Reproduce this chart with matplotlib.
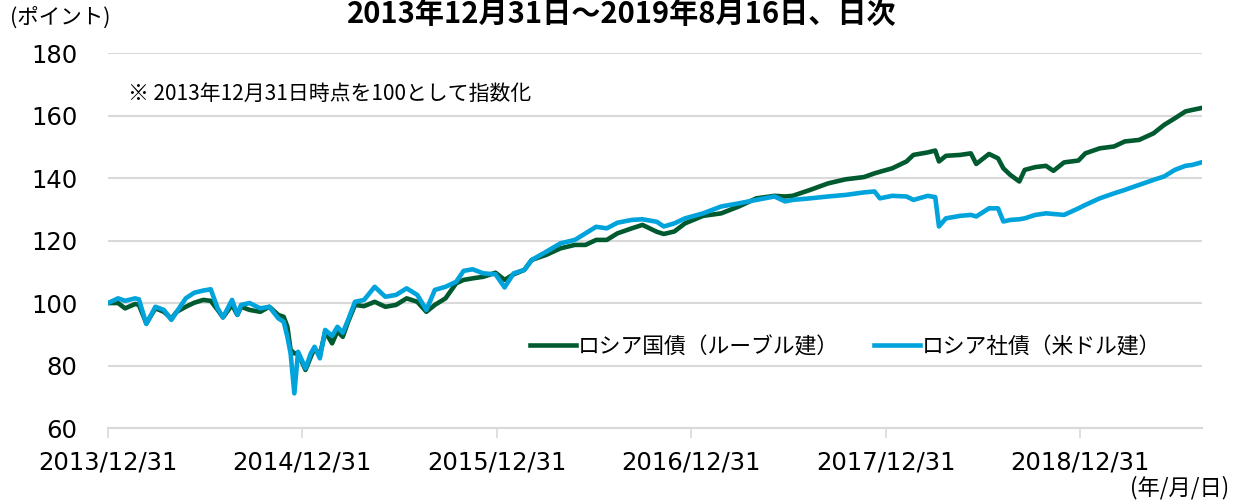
import pandas as pd
import matplotlib
matplotlib.use("Agg")
import matplotlib.pyplot as plt

plt.rcParams['font.family'] = ['Noto Sans CJK JP', 'DejaVu Sans']

# (index, 2013/12/31 = 100)
dates = [
    "2013-12-31", "2014-01-19", "2014-02-01", "2014-02-20", "2014-02-27", "2014-03-13",
    "2014-03-30", "2014-04-15", "2014-04-29", "2014-05-09", "2014-05-26", "2014-06-11",
    "2014-06-28", "2014-07-12", "2014-07-25", "2014-08-04", "2014-08-21", "2014-08-31",
    "2014-09-07", "2014-09-23", "2014-10-13", "2014-10-30", "2014-11-16", "2014-11-26",
    "2014-12-03", "2014-12-09", "2014-12-16", "2014-12-23", "2015-01-06", "2015-01-16",
    "2015-01-23", "2015-02-02", "2015-02-12", "2015-02-25", "2015-03-07", "2015-03-17",
    "2015-03-27", "2015-04-09", "2015-04-26", "2015-05-16", "2015-06-05", "2015-06-25",
    "2015-07-15", "2015-08-04", "2015-08-21", "2015-09-06", "2015-09-26", "2015-10-16",
    "2015-10-30", "2015-11-16", "2015-12-06", "2015-12-29", "2016-01-15", "2016-02-01",
    "2016-02-21", "2016-03-06", "2016-04-02", "2016-04-29", "2016-05-26", "2016-06-15",
    "2016-07-05", "2016-07-25", "2016-08-14", "2016-09-10", "2016-09-30", "2016-10-27",
    "2016-11-09", "2016-11-29", "2016-12-19", "2017-01-22", "2017-02-25", "2017-03-30",
    "2017-05-02", "2017-06-05", "2017-06-25", "2017-07-09", "2017-08-11", "2017-09-14",
    "2017-10-17", "2017-11-20", "2017-12-10", "2017-12-20", "2018-01-12", "2018-02-08",
    "2018-02-21", "2018-03-20", "2018-04-03", "2018-04-10", "2018-04-23", "2018-05-20",
    "2018-06-09", "2018-06-19", "2018-07-13", "2018-07-30", "2018-08-09", "2018-08-22",
    "2018-09-08", "2018-09-18", "2018-10-08", "2018-10-28", "2018-11-11", "2018-12-01",
    "2018-12-28", "2019-01-10", "2019-02-06", "2019-03-05", "2019-03-25", "2019-04-21",
    "2019-05-18", "2019-06-07", "2019-06-27", "2019-07-17", "2019-07-30", "2019-08-16",
]
gov_rub = [
    100.0, 100.0, 98.3, 99.7, 99.4, 93.5,
    98.3, 97.2, 95.0, 97.2, 98.8, 100.1,
    101.0, 100.7, 97.8, 95.4, 99.4, 96.2,
    98.8, 97.8, 97.2, 98.8, 96.2, 95.6,
    92.4, 85.0, 83.9, 83.9, 78.6, 82.8,
    85.5, 83.4, 90.8, 87.1, 91.0, 89.2,
    94.0, 99.4, 99.0, 100.4, 98.8, 99.4,
    101.5, 100.4, 97.2, 99.4, 101.5, 106.3,
    107.4, 107.9, 108.4, 109.7, 107.4, 109.2,
    110.6, 113.8, 115.4, 117.5, 118.6, 118.6,
    120.2, 120.2, 122.3, 123.9, 125.0, 122.8,
    122.1, 122.9, 125.5, 127.9, 128.7, 130.9,
    133.5, 134.3, 134.1, 134.3, 136.2, 138.3,
    139.6, 140.3, 141.5, 142.0, 143.1, 145.3,
    147.4, 148.2, 148.8, 145.3, 147.1, 147.4,
    147.9, 144.5, 147.7, 146.3, 143.1, 141.0,
    138.9, 142.6, 143.5, 143.9, 142.3, 145.0,
    145.6, 147.9, 149.5, 150.1, 151.7, 152.2,
    154.3, 157.0, 159.1, 161.3, 161.8, 162.4,
]
corp_usd = [
    100.0, 101.5, 100.7, 101.5, 101.2, 93.3,
    98.8, 97.8, 94.6, 97.2, 101.5, 103.3,
    104.0, 104.4, 98.3, 95.4, 101.0, 96.2,
    99.4, 100.0, 98.3, 98.8, 95.1, 94.0,
    89.2, 83.9, 71.1, 84.4, 79.1, 83.9,
    86.0, 82.3, 91.4, 89.5, 92.4, 90.5,
    94.6, 100.4, 101.0, 105.2, 102.0, 102.6,
    104.7, 102.6, 97.8, 104.2, 105.2, 106.8,
    110.3, 110.8, 109.5, 109.2, 105.0, 109.5,
    110.6, 113.8, 116.4, 119.1, 120.2, 122.3,
    124.4, 123.9, 125.7, 126.6, 126.8, 126.0,
    124.5, 125.5, 127.1, 128.7, 130.9, 131.9,
    133.0, 134.1, 132.5, 133.0, 133.5, 134.1,
    134.6, 135.4, 135.7, 133.5, 134.3, 134.1,
    133.0, 134.3, 133.9, 124.5, 127.1, 127.9,
    128.2, 127.7, 130.3, 130.3, 126.1, 126.6,
    126.8, 127.1, 128.2, 128.7, 128.5, 128.2,
    130.3, 131.4, 133.5, 135.1, 136.2, 137.8,
    139.4, 140.5, 142.6, 143.9, 144.2, 145.0,
]
labels = ["ロシア国債（ルーブル建）", "ロシア社債（米ドル建）"]
tick_dates = ["2013-12-31", "2014-12-31", "2015-12-31", "2016-12-31", "2017-12-31", "2018-12-31"]
tick_labels = ["2013/12/31", "2014/12/31", "2015/12/31", "2016/12/31", "2017/12/31", "2018/12/31"]

x = pd.to_datetime(dates)

fig = plt.figure(figsize=(12.33, 5.03), dpi=100)
ax = fig.add_axes([0.0876, 0.149, 0.8872, 0.7456])

ax.plot(x, gov_rub, color='#005A30', lw=3.3, label=labels[0], solid_joinstyle='round')
ax.plot(x, corp_usd, color='#00A3DB', lw=3.3, label=labels[1], solid_joinstyle='round')

ax.set_ylim(60, 180)
ax.set_yticks(range(60, 181, 20))
ax.set_xlim(pd.Timestamp("2013-12-31"), pd.Timestamp("2019-08-17"))
ax.set_xticks(pd.to_datetime(tick_dates))
ax.set_xticklabels(tick_labels)

ax.grid(axis='y', color='#D9D9D9', lw=1.5)
ax.set_axisbelow(True)
for s in ['top', 'right', 'left']:
    ax.spines[s].set_visible(False)
ax.spines['bottom'].set_color('#D9D9D9')
ax.spines['bottom'].set_linewidth(1.5)
ax.tick_params(axis='y', length=0, pad=22)
ax.tick_params(axis='x', length=7, width=1.2, color='#D9D9D9', pad=9)
for lab in ax.get_xticklabels() + ax.get_yticklabels():
    lab.set_family(['DejaVu Sans'])
    lab.set_fontsize(17.5)

ax.legend(loc='center left', bbox_to_anchor=(0.386, 0.216), ncol=2, frameon=False,
          fontsize=15.7, handlelength=2.1, handletextpad=0.1, columnspacing=1.6,
          borderpad=0, borderaxespad=0)

fig.text(128 / 1233, 1 - 94 / 503, "※ 2013年12月31日時点を100として指数化", fontsize=15,
         va='center', ha='left')
fig.text(10 / 1233, 1 - 18 / 503, "(ポイント)", fontsize=15.5, va='center', ha='left')
fig.text(1229 / 1233, 1 - 488 / 503, "(年/月/日)", fontsize=16, va='center', ha='right')
fig.text(622 / 1233, 1 - 23 / 503, "2013年12月31日～2019年8月16日、日次", fontsize=21,
         fontweight='bold', ha='center', va='baseline')

fig.savefig("out.png", dpi=100)
